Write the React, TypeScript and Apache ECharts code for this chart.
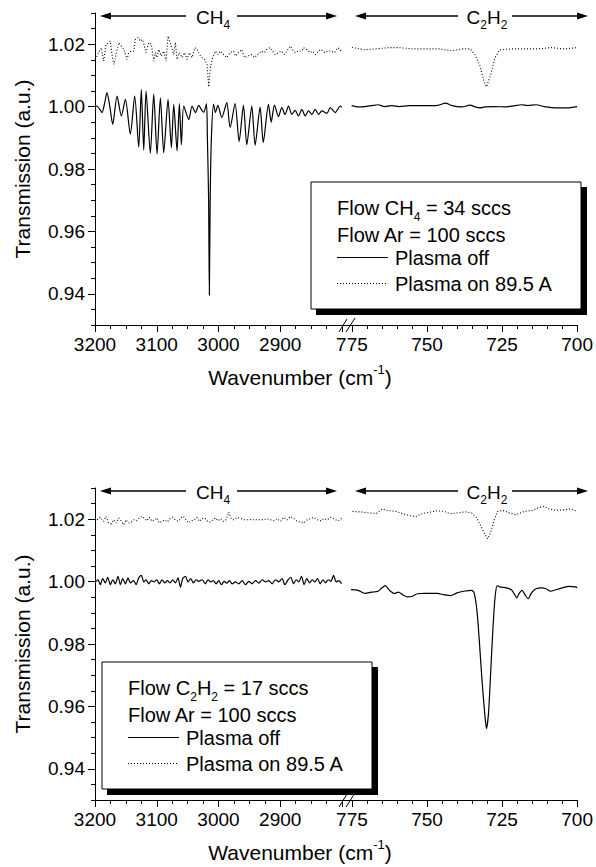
import React, { useEffect, useRef } from "react";
import * as echarts from "echarts";

const FONT = "'Liberation Sans', Arial, Helvetica, sans-serif";

// Axis settings / tick labels
const yMin = 0.93;
const yMax = 1.03;
const yMajorTicks = [0.94, 0.96, 0.98, 1.0, 1.02];
const ch4Min = 2800;
const ch4Max = 3200;
const c2h2Min = 700;
const c2h2Max = 778.3;

// ---------- Top panel (CH4 = 34 sccs) ----------
const topCh4OffWn = [3199.5, 3196.8, 3192.5, 3188.7, 3184.5, 3180.6, 3176.0, 3171.3, 3164.3, 3157.3,
  3150.8, 3142.8, 3135.7, 3129.2, 3125.0, 3121.1, 3117.3, 3110.4, 3104.9, 3099.5,
  3094.1, 3088.7, 3081.7, 3076.3, 3072.5, 3067.1, 3063.4, 3060.1, 3056.3, 3048.1,
  3042.8, 3037.4, 3031.9, 3027.0, 3023.8, 3019.5, 3018.0, 3016.0, 3014.8, 3013.5,
  3011.5, 3008.0, 3005.0, 3001.0, 2994.7, 2986.6, 2981.2, 2973.1, 2966.6, 2959.6,
  2954.2, 2946.1, 2940.7, 2932.6, 2927.5, 2919.1, 2914.7, 2909.4, 2902.9, 2897.5,
  2892.1, 2886.7, 2881.2, 2875.9, 2870.5, 2865.0, 2859.6, 2854.3, 2848.8, 2843.4,
  2838.0, 2832.6, 2824.5, 2819.1, 2811.0, 2802.9, 2800.3];
const topCh4OffT = [1.0000, 1.0002, 0.9992, 0.9981, 1.0010, 1.0045, 1.0000, 0.9943, 1.0034, 0.9970,
  1.0023, 0.9912, 1.0034, 0.9870, 1.0055, 0.9860, 1.0050, 0.9850, 1.0040, 0.9848,
  1.0028, 0.9852, 1.0023, 0.9868, 1.0007, 0.9858, 1.0010, 0.9878, 1.0002, 0.9959,
  1.0002, 0.9981, 1.0004, 0.9988, 0.9982, 1.0010, 0.9900, 0.9700, 0.9395, 0.9700,
  0.9900, 1.0008, 0.9981, 1.0004, 0.9965, 1.0013, 0.9933, 1.0010, 0.9888, 1.0004,
  0.9878, 1.0002, 0.9876, 0.9998, 0.9885, 1.0007, 0.9950, 1.0005, 0.9968, 0.9997,
  0.9975, 1.0002, 0.9975, 0.9988, 0.9970, 0.9991, 0.9970, 0.9986, 0.9975, 0.9991,
  0.9975, 0.9986, 0.9978, 0.9997, 0.9981, 1.0002, 0.9998];

const topCh4OnWn = [3199.5, 3194.1, 3189.7, 3185.9, 3182.2, 3177.8, 3175.2, 3171.4, 3169.2, 3166.0,
  3161.6, 3157.3, 3153.0, 3148.1, 3145.4, 3141.1, 3137.3, 3134.6, 3130.3, 3126.5,
  3122.7, 3119.5, 3117.3, 3113.0, 3108.7, 3104.9, 3102.2, 3099.5, 3096.8, 3092.5,
  3088.7, 3084.9, 3081.7, 3079.0, 3076.3, 3072.5, 3069.8, 3067.1, 3063.3, 3059.0,
  3054.7, 3050.9, 3047.1, 3042.8, 3038.5, 3034.7, 3030.9, 3026.7, 3022.3, 3018.5,
  3015.8, 3013.1, 3009.3, 3005.0, 3000.6, 2996.9, 2992.0, 2986.6, 2981.2, 2975.8,
  2972.0, 2967.7, 2962.3, 2958.0, 2952.6, 2947.2, 2941.8, 2936.4, 2930.9, 2925.6,
  2921.8, 2916.4, 2912.6, 2908.3, 2902.9, 2898.5, 2893.1, 2887.7, 2883.9, 2880.2,
  2875.9, 2870.5, 2865.0, 2862.4, 2857.0, 2851.5, 2847.8, 2843.4, 2838.0, 2833.7,
  2828.3, 2822.9, 2817.5, 2812.1, 2806.7, 2801.3];
const topCh4OnT = [1.0151, 1.0173, 1.0189, 1.0146, 1.0199, 1.0205, 1.0210, 1.0151, 1.0135, 1.0167,
  1.0205, 1.0194, 1.0183, 1.0151, 1.0173, 1.0178, 1.0178, 1.0215, 1.0221, 1.0210,
  1.0215, 1.0189, 1.0173, 1.0205, 1.0199, 1.0146, 1.0173, 1.0157, 1.0183, 1.0162,
  1.0178, 1.0146, 1.0226, 1.0210, 1.0194, 1.0167, 1.0205, 1.0151, 1.0173, 1.0157,
  1.0173, 1.0151, 1.0173, 1.0157, 1.0189, 1.0183, 1.0167, 1.0157, 1.0151, 1.0135,
  1.0063, 1.0125, 1.0157, 1.0178, 1.0167, 1.0178, 1.0167, 1.0157, 1.0173, 1.0178,
  1.0162, 1.0173, 1.0183, 1.0157, 1.0162, 1.0167, 1.0157, 1.0167, 1.0178, 1.0173,
  1.0183, 1.0189, 1.0178, 1.0167, 1.0173, 1.0178, 1.0167, 1.0183, 1.0194, 1.0183,
  1.0173, 1.0178, 1.0178, 1.0189, 1.0183, 1.0173, 1.0178, 1.0167, 1.0178, 1.0183,
  1.0173, 1.0178, 1.0178, 1.0173, 1.0189, 1.0178];

const topC2h2OffWn = [775.1, 772.9, 770.7, 768.5, 766.3, 764.1, 761.9, 759.2, 755.9, 752.6,
  748.3, 746.1, 743.8, 741.7, 738.4, 735.6, 734.0, 732.3, 730.7, 727.4,
  724.1, 720.8, 718.6, 716.4, 713.7, 711.0, 706.6, 703.3, 700.0];
const topC2h2OffT = [1.0003, 0.9999, 1.0000, 1.0003, 1.0006, 1.0000, 1.0003, 1.0000, 1.0003, 1.0003,
  1.0003, 1.0005, 1.0011, 1.0003, 0.9999, 1.0005, 0.9999, 0.9996, 0.9999, 1.0000,
  0.9999, 1.0003, 1.0006, 1.0003, 1.0006, 1.0000, 0.9996, 0.9996, 1.0000];

const topC2h2OnWn = [775.0, 771.0, 767.2, 762.7, 759.2, 754.8, 750.4, 746.1, 741.7, 738.4,
  735.6, 734.0, 732.3, 731.2, 730.2, 728.8, 727.4, 725.8, 721.9, 717.5,
  713.1, 708.7, 704.4, 700.0];
const topC2h2OnT = [1.0190, 1.0182, 1.0185, 1.0189, 1.0189, 1.0185, 1.0185, 1.0185, 1.0179, 1.0185,
  1.0185, 1.0166, 1.0129, 1.0086, 1.0063, 1.0102, 1.0156, 1.0182, 1.0185, 1.0185,
  1.0185, 1.0189, 1.0185, 1.0189];

// ---------- Bottom panel (C2H2 = 17 sccs) ----------
const botCh4OffWn = [3199.5, 3195.1, 3191.4, 3187.6, 3183.3, 3179.5, 3175.2, 3171.4, 3167.0, 3162.7,
  3158.9, 3155.2, 3150.8, 3146.5, 3142.7, 3137.3, 3133.5, 3129.2, 3124.9, 3121.1,
  3117.3, 3113.0, 3108.7, 3104.3, 3100.0, 3095.7, 3091.4, 3087.1, 3082.8, 3078.4,
  3074.1, 3069.8, 3065.5, 3061.7, 3057.9, 3053.6, 3049.3, 3045.0, 3040.6, 3036.3,
  3032.0, 3026.6, 3021.2, 3016.9, 3012.5, 3008.2, 3003.9, 2999.6, 2995.2, 2990.9,
  2986.6, 2982.3, 2978.0, 2972.6, 2967.2, 2961.7, 2956.3, 2950.9, 2945.5, 2940.1,
  2934.7, 2929.3, 2923.9, 2918.5, 2913.1, 2907.7, 2902.3, 2896.9, 2892.6, 2887.2,
  2882.9, 2878.5, 2874.2, 2869.9, 2865.6, 2861.3, 2857.0, 2852.6, 2848.3, 2844.0,
  2839.7, 2835.4, 2831.0, 2826.7, 2822.4, 2818.1, 2813.7, 2809.4, 2805.1, 2800.8];
const botCh4OffT = [0.9999, 1.0006, 0.9990, 1.0010, 0.9996, 1.0014, 0.9990, 1.0006, 0.9993, 1.0017,
  0.9990, 1.0010, 0.9993, 1.0012, 0.9996, 1.0003, 0.9990, 1.0012, 1.0020, 0.9999,
  1.0006, 0.9993, 1.0003, 0.9999, 1.0006, 0.9993, 1.0006, 0.9996, 1.0003, 0.9996,
  1.0006, 0.9996, 1.0012, 0.9982, 1.0010, 1.0017, 0.9999, 1.0010, 0.9996, 1.0006,
  1.0001, 1.0006, 0.9993, 1.0006, 0.9999, 1.0003, 0.9993, 1.0003, 0.9990, 1.0001,
  0.9995, 1.0003, 0.9993, 0.9999, 0.9993, 1.0003, 0.9990, 1.0001, 0.9993, 1.0003,
  0.9995, 1.0006, 0.9999, 1.0003, 0.9993, 1.0006, 0.9999, 1.0010, 0.9990, 1.0006,
  1.0014, 0.9993, 1.0006, 0.9999, 1.0017, 0.9990, 1.0010, 0.9996, 1.0006, 0.9999,
  1.0010, 0.9993, 1.0006, 0.9996, 1.0006, 1.0001, 1.0020, 0.9999, 1.0003, 0.9993];

const botCh4OnWn = [3196.8, 3191.4, 3186.0, 3182.2, 3177.9, 3173.5, 3169.7, 3166.0, 3161.6, 3157.3,
  3153.5, 3149.7, 3145.4, 3141.1, 3137.3, 3131.9, 3128.1, 3123.8, 3119.5, 3115.7,
  3111.9, 3107.6, 3103.3, 3099.5, 3095.7, 3091.4, 3087.1, 3082.8, 3078.4, 3074.1,
  3069.8, 3065.5, 3061.1, 3056.8, 3052.5, 3048.2, 3043.9, 3039.5, 3035.2, 3030.9,
  3026.6, 3022.3, 3017.9, 3013.6, 3009.3, 3005.0, 3000.6, 2996.3, 2992.0, 2987.7,
  2983.4, 2980.1, 2975.3, 2969.9, 2964.4, 2959.0, 2953.6, 2948.2, 2942.8, 2937.4,
  2932.0, 2926.6, 2921.2, 2915.8, 2910.4, 2905.0, 2899.6, 2894.2, 2888.8, 2883.4,
  2878.0, 2872.6, 2867.2, 2861.8, 2856.4, 2851.0, 2845.6, 2840.2, 2834.8, 2829.4,
  2824.0, 2818.6, 2813.2, 2807.8, 2802.4, 2800.2];
const botCh4OnT = [1.0198, 1.0206, 1.0193, 1.0209, 1.0188, 1.0185, 1.0198, 1.0188, 1.0204, 1.0193,
  1.0182, 1.0198, 1.0188, 1.0191, 1.0198, 1.0195, 1.0204, 1.0209, 1.0202, 1.0195,
  1.0206, 1.0193, 1.0198, 1.0204, 1.0188, 1.0193, 1.0198, 1.0191, 1.0202, 1.0206,
  1.0198, 1.0193, 1.0204, 1.0209, 1.0198, 1.0188, 1.0195, 1.0198, 1.0206, 1.0193,
  1.0202, 1.0204, 1.0193, 1.0191, 1.0198, 1.0204, 1.0195, 1.0202, 1.0193, 1.0198,
  1.0223, 1.0204, 1.0198, 1.0206, 1.0202, 1.0198, 1.0198, 1.0199, 1.0198, 1.0198,
  1.0199, 1.0198, 1.0201, 1.0198, 1.0195, 1.0202, 1.0193, 1.0206, 1.0198, 1.0209,
  1.0202, 1.0193, 1.0191, 1.0188, 1.0198, 1.0202, 1.0206, 1.0198, 1.0195, 1.0202,
  1.0198, 1.0206, 1.0202, 1.0195, 1.0198, 1.0204];

const botC2h2OffWn = [775.3, 772.9, 770.7, 768.5, 766.3, 765.0, 763.9, 762.5, 760.9, 759.5,
  758.1, 756.5, 754.8, 753.2, 751.0, 748.8, 746.6, 744.4, 742.2, 740.0,
  737.8, 735.1, 734.3, 733.4, 732.6, 731.7, 730.8, 730.2, 729.5, 728.8,
  728.0, 727.3, 726.6, 725.8, 723.6, 721.9, 720.8, 720.1, 719.2, 718.3,
  717.4, 716.3, 715.2, 713.7, 711.7, 710.4, 708.8, 707.1, 704.9, 702.7,
  700.6, 700.0];
const botC2h2OffT = [0.9974, 0.9972, 0.9962, 0.9966, 0.9969, 0.9980, 0.9987, 0.9972, 0.9962, 0.9966,
  0.9958, 0.9951, 0.9953, 0.9961, 0.9962, 0.9962, 0.9962, 0.9958, 0.9955, 0.9964,
  0.9969, 0.9972, 0.9964, 0.9910, 0.9814, 0.9686, 0.9580, 0.9529, 0.9580, 0.9708,
  0.9857, 0.9953, 0.9987, 0.9983, 0.9980, 0.9974, 0.9958, 0.9948, 0.9964, 0.9972,
  0.9958, 0.9945, 0.9964, 0.9977, 0.9980, 0.9977, 0.9969, 0.9974, 0.9980, 0.9985,
  0.9983, 0.9980];

const botC2h2OnWn = [774.8, 771.8, 769.1, 766.9, 764.9, 763.1, 760.3, 758.1, 755.9, 753.7,
  751.5, 749.3, 746.6, 744.4, 742.2, 740.0, 737.3, 735.1, 733.4, 732.0,
  730.7, 729.8, 728.7, 727.6, 726.5, 724.7, 722.5, 720.3, 717.6, 714.8,
  713.2, 711.0, 709.3, 707.1, 704.4, 702.2, 700.0];
const botC2h2OnT = [1.0225, 1.0223, 1.0220, 1.0218, 1.0233, 1.0228, 1.0225, 1.0218, 1.0211, 1.0209,
  1.0218, 1.0222, 1.0227, 1.0225, 1.0218, 1.0220, 1.0224, 1.0220, 1.0204, 1.0177,
  1.0150, 1.0137, 1.0161, 1.0198, 1.0225, 1.0228, 1.0220, 1.0214, 1.0225, 1.0228,
  1.0236, 1.0241, 1.0233, 1.0228, 1.0230, 1.0233, 1.0225];

const pairs = (w: number[], t: number[]) => w.map((x, i) => [x, t[i]]);

const BLACK = "#000";

function mainYAxis(gridIndex: number) {
  return {
    type: "value", gridIndex, min: yMin, max: yMax, position: "left",
    axisLine: { show: true, onZero: false, lineStyle: { color: BLACK, width: 1 } },
    axisTick: { show: true, inside: false, length: 7, customValues: yMajorTicks, lineStyle: { color: BLACK } },
    axisLabel: {
      show: true, customValues: yMajorTicks, formatter: (v: number) => v.toFixed(2),
      fontSize: 19, color: BLACK, fontFamily: FONT, margin: 10,
    },
    splitLine: { show: false },
    name: "Transmission (a.u.)", nameLocation: "middle", nameGap: 62,
    nameTextStyle: { fontSize: 21, color: BLACK, fontFamily: FONT },
  };
}
function minorYAxis(gridIndex: number) {
  return {
    type: "value", gridIndex, min: yMin, max: yMax, interval: 0.005, position: "left",
    axisLine: { show: false, onZero: false },
    axisTick: { show: true, length: 4, lineStyle: { color: BLACK } },
    axisLabel: { show: false }, splitLine: { show: false },
  };
}
function hiddenYAxis(gridIndex: number) {
  return { type: "value", gridIndex, min: yMin, max: yMax, show: false, splitLine: { show: false } };
}
function ch4XAxis(gridIndex: number) {
  return {
    type: "value", gridIndex, inverse: true, min: ch4Min, max: ch4Max, interval: 100, position: "bottom",
    axisLine: { onZero: false, lineStyle: { color: BLACK, width: 1 } },
    axisTick: { length: 7, lineStyle: { color: BLACK } },
    minorTick: { show: true, splitNumber: 4, length: 4, lineStyle: { color: BLACK } },
    axisLabel: {
      fontSize: 19, color: BLACK, fontFamily: FONT, margin: 10, showMinLabel: false,
      formatter: (v: number) => String(Math.round(v)),
    },
    splitLine: { show: false }, minorSplitLine: { show: false },
  };
}
function c2h2XAxis(gridIndex: number) {
  return {
    type: "value", gridIndex, inverse: true, min: c2h2Min, max: c2h2Max, interval: 25, position: "bottom",
    axisLine: { onZero: false, lineStyle: { color: BLACK, width: 1 } },
    axisTick: { length: 7, lineStyle: { color: BLACK } },
    axisLabel: {
      fontSize: 19, color: BLACK, fontFamily: FONT, margin: 10, showMaxLabel: false,
      formatter: (v: number) => String(Math.round(v)),
    },
    splitLine: { show: false },
  };
}
function c2h2MinorXAxis(gridIndex: number) {
  return {
    type: "value", gridIndex, inverse: true, min: c2h2Min, max: c2h2Max, interval: 5, position: "bottom",
    axisLine: { show: false, onZero: false },
    axisTick: { length: 4, lineStyle: { color: BLACK } },
    axisLabel: { show: false }, splitLine: { show: false },
  };
}

function lineSeries(data: number[][], xi: number, yi: number, dotted: boolean) {
  return {
    type: "line", data, xAxisIndex: xi, yAxisIndex: yi, symbol: "none", showSymbol: false,
    silent: true, clip: true, smooth: dotted ? false : 0.25,
    lineStyle: dotted ? { color: BLACK, width: 1.1, type: [1, 2] } : { color: BLACK, width: 1.2 },
  };
}

const richMain = (size: number) => ({ fontSize: size, fontFamily: FONT, fill: BLACK, verticalAlign: "middle" });
const richSub = (size: number, pad: number) => ({ fontSize: size, fontFamily: FONT, fill: BLACK, verticalAlign: "middle", padding: [pad, 0, 0, 0] });

function arrow(x1: number, x2: number, y: number, tipAt: "left" | "right") {
  const tip = tipAt === "left" ? x1 : x2;
  const base = tipAt === "left" ? x1 + 11 : x2 - 11;
  return [
    { type: "line", z: 50, shape: { x1: tipAt === "left" ? base : x1, y1: y, x2: tipAt === "left" ? x2 : base, y2: y }, style: { stroke: BLACK, lineWidth: 1.3 } },
    { type: "polygon", z: 50, shape: { points: [[tip, y], [base, y - 3.5], [base, y + 3.5]] }, style: { fill: BLACK } },
  ];
}

function panelDecor(dy: number, box: { x: number; y: number }, firstLine: string) {
  const ay = 16 + dy;
  const axisY = 325 + dy;
  const els: any[] = [
    ...arrow(100, 186, ay, "left"),
    ...arrow(237, 337, ay, "right"),
    ...arrow(355, 458, ay, "left"),
    ...arrow(512, 588, ay, "right"),
    {
      type: "text", z: 50, style: {
        x: 213, y: ay + 1, text: "{n|CH}{s|4}", align: "center", verticalAlign: "middle",
        rich: { n: richMain(19), s: richSub(12, 16) },
      },
    },
    {
      type: "text", z: 50, style: {
        x: 487, y: ay + 1, text: "{n|C}{s|2}{n|H}{s|2}", align: "center", verticalAlign: "middle",
        rich: { n: richMain(19), s: richSub(12, 16) },
      },
    },
    { type: "line", z: 50, shape: { x1: 339, y1: axisY + 7, x2: 347, y2: axisY - 6 }, style: { stroke: BLACK, lineWidth: 1 } },
    { type: "line", z: 50, shape: { x1: 346, y1: axisY + 7, x2: 355, y2: axisY - 7 }, style: { stroke: BLACK, lineWidth: 1 } },
    {
      type: "text", z: 50, style: {
        x: 300, y: 377 + dy, text: "{t|Wavenumber (cm}{p|-1}{t|)}", align: "center", verticalAlign: "middle",
        rich: { t: richMain(21), p: { fontSize: 13, fontFamily: FONT, fill: BLACK, verticalAlign: "middle", padding: [0, 0, 16, 0] } },
      },
    },
    // legend box with shadow
    { type: "rect", z: 60, shape: { x: box.x + 5, y: box.y + 5, width: 271, height: 128 }, style: { fill: BLACK } },
    { type: "rect", z: 61, shape: { x: box.x, y: box.y, width: 270, height: 127 }, style: { fill: "#fff", stroke: BLACK, lineWidth: 1 } },
    {
      type: "text", z: 62, style: {
        x: box.x + 26, y: box.y + 26, text: firstLine, align: "left", verticalAlign: "middle",
        rich: { n: richMain(20), s: richSub(12, 18) },
      },
    },
    {
      type: "text", z: 62, style: {
        x: box.x + 26, y: box.y + 53, text: "Flow Ar = 100 sccs", align: "left", verticalAlign: "middle",
        fontSize: 20, fontFamily: FONT, fill: BLACK,
      },
    },
    { type: "line", z: 62, shape: { x1: box.x + 26, y1: box.y + 75.5, x2: box.x + 77, y2: box.y + 75.5 }, style: { stroke: BLACK, lineWidth: 1.2 } },
    {
      type: "text", z: 62, style: {
        x: box.x + 84, y: box.y + 76, text: "Plasma off", align: "left", verticalAlign: "middle",
        fontSize: 20, fontFamily: FONT, fill: BLACK,
      },
    },
    { type: "line", z: 62, shape: { x1: box.x + 26, y1: box.y + 101.5, x2: box.x + 76, y2: box.y + 101.5 }, style: { stroke: BLACK, lineWidth: 1.1, lineDash: [1, 2] } },
    {
      type: "text", z: 62, style: {
        x: box.x + 84, y: box.y + 102, text: "Plasma on 89.5 A", align: "left", verticalAlign: "middle",
        fontSize: 20, fontFamily: FONT, fill: BLACK,
      },
    },
  ];
  return els;
}

export default function App() {
  const ref = useRef<HTMLDivElement>(null);
  useEffect(() => {
    document.body.style.margin = "0";
    const chart = echarts.init(ref.current!, undefined, { renderer: "svg" });
    const option: any = {
      animation: false,
      backgroundColor: "#fff",
      textStyle: { fontFamily: FONT, color: BLACK },
      grid: [
        { left: 95, top: 13, width: 247, height: 312 },
        { left: 342, top: 13, width: 238, height: 312 },
        { left: 95, top: 488, width: 247, height: 312 },
        { left: 342, top: 488, width: 238, height: 312 },
      ],
      xAxis: [
        ch4XAxis(0), c2h2XAxis(1), c2h2MinorXAxis(1),
        ch4XAxis(2), c2h2XAxis(3), c2h2MinorXAxis(3),
      ],
      yAxis: [
        mainYAxis(0), minorYAxis(0), hiddenYAxis(1),
        mainYAxis(2), minorYAxis(2), hiddenYAxis(3),
      ],
      series: [
        lineSeries(pairs(topCh4OffWn, topCh4OffT), 0, 0, false),
        lineSeries(pairs(topCh4OnWn, topCh4OnT), 0, 0, true),
        lineSeries(pairs(topC2h2OffWn, topC2h2OffT), 1, 2, false),
        lineSeries(pairs(topC2h2OnWn, topC2h2OnT), 1, 2, true),
        lineSeries(pairs(botCh4OffWn, botCh4OffT), 3, 3, false),
        lineSeries(pairs(botCh4OnWn, botCh4OnT), 3, 3, true),
        lineSeries(pairs(botC2h2OffWn, botC2h2OffT), 4, 5, false),
        lineSeries(pairs(botC2h2OnWn, botC2h2OnT), 4, 5, true),
      ],
      graphic: [
        ...panelDecor(0, { x: 311, y: 182 }, "{n|Flow CH}{s|4}{n| = 34 sccs}"),
        ...panelDecor(475, { x: 102, y: 662 }, "{n|Flow C}{s|2}{n|H}{s|2}{n| = 17 sccs}"),
      ],
    };
    chart.setOption(option);
    return () => chart.dispose();
  }, []);
  return <div ref={ref} style={{ width: 596, height: 867 }} />;
}
